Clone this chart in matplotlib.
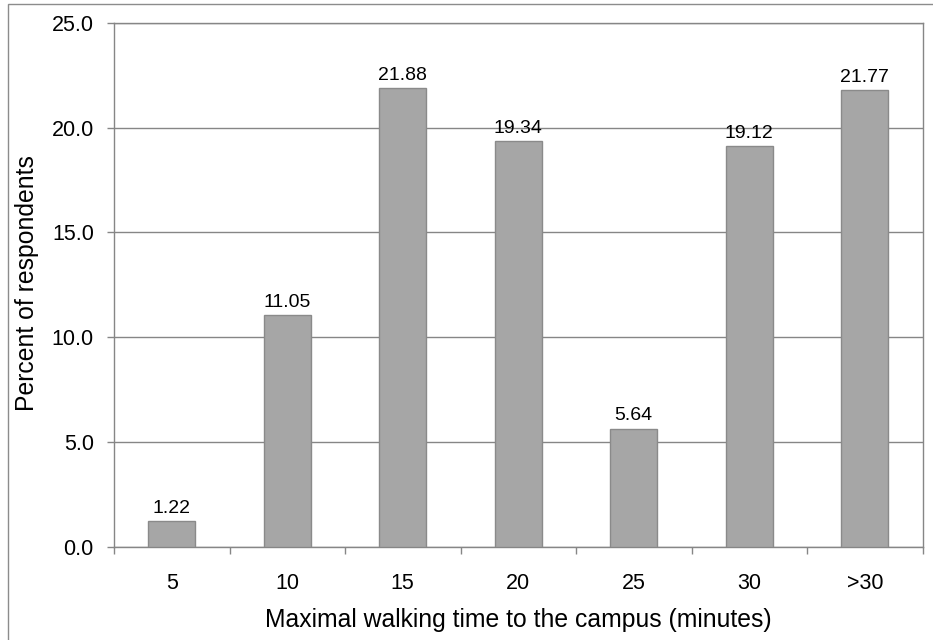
import matplotlib
matplotlib.use("Agg")
import matplotlib.pyplot as plt
from matplotlib.patches import Rectangle

# data
categories = ["5", "10", "15", "20", "25", "30", ">30"]
percents = [1.22, 11.05, 21.88, 19.34, 5.64, 19.12, 21.77]
y_ticks = [0, 5, 10, 15, 20, 25]

plt.rcParams["font.family"] = ["Liberation Sans", "DejaVu Sans"]

fig = plt.figure(figsize=(9.33, 6.4), dpi=100)
ax = fig.add_axes([114 / 933, 1 - 547 / 640, 808.5 / 933, (547 - 22.7) / 640])

# outer frame of the chart area (only left/top edges visible)
fig.patches.append(Rectangle((8 / 933, -0.1), 1.2, 1 - 4.3 / 640 + 0.1,
                             transform=fig.transFigure, fill=False,
                             edgecolor="#8c8c8c", linewidth=1.0))

x = range(len(categories))
bars = ax.bar(x, percents, width=0.41, color="#a6a6a6", edgecolor="#8a8a8a",
              linewidth=1.0, zorder=3)

for xi, v in zip(x, percents):
    ax.annotate("%.2f" % v, (xi, v), xytext=(0, 6), textcoords="offset points",
                ha="center", va="baseline", fontsize=14, color="black")

ax.set_xlim(-0.5, len(categories) - 0.5)
ax.set_ylim(0, 25)
ax.set_yticks(y_ticks)
ax.set_yticklabels(["%.1f" % t for t in y_ticks], fontsize=15.5)
ax.yaxis.grid(True, color="#868686", linewidth=1.0, zorder=0)

ax.set_xticks(list(x))
ax.set_xticklabels(categories, fontsize=15.5)
ax.set_xticks([i - 0.5 for i in range(len(categories) + 1)], minor=True)
ax.tick_params(axis="x", which="major", length=0, pad=19)
ax.tick_params(axis="x", which="minor", length=5, width=1, color="#868686", direction="out")
ax.tick_params(axis="y", length=5, width=1, color="#868686", pad=9.5)

for s in ax.spines.values():
    s.set_color("#868686")
    s.set_linewidth(1.0)

fig.text(518 / 933, 1 - 627 / 640, "Maximal walking time to the campus (minutes)",
         ha="center", va="baseline", fontsize=17.8)
fig.text(27.5 / 933, 1 - 283 / 640, "Percent of respondents", rotation=90,
         ha="center", va="center", fontsize=17.8)

fig.savefig("out.png", dpi=100)
